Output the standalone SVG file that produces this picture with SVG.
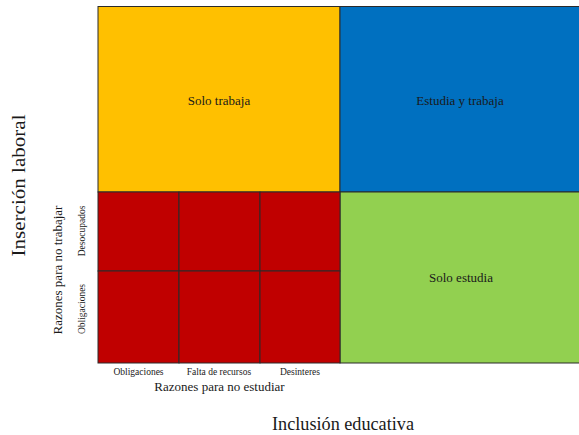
<svg xmlns="http://www.w3.org/2000/svg" width="579" height="435" viewBox="0 0 579 435" font-family="'Liberation Serif', 'Times New Roman', 'DejaVu Serif', serif">
<style>
text{fill:#1a1a1a;text-anchor:middle}
.cell{stroke:#2a2a2a;stroke-width:1}
.q{font-size:13px}
.ax{font-size:19px}
.sub{font-size:13px}
.sm{font-size:9.5px}
</style>
<rect width="579" height="435" fill="#fff"/>
<g id="solo-trabaja">
<rect class="cell" x="98" y="6.5" width="242" height="185.5" fill="#FFC000"/>
<text class="q" x="219" y="105">Solo trabaja</text>
</g>
<g id="estudia-y-trabaja">
<rect class="cell" x="340" y="6.5" width="240" height="185.5" fill="#0070C0"/>
<text class="q" x="460" y="105">Estudia y trabaja</text>
</g>
<g id="solo-estudia">
<rect class="cell" x="340" y="192" width="240" height="171" fill="#92D050"/>
<text class="q" x="461" y="282">Solo estudia</text>
</g>
<g id="ninguno">
<rect class="cell" x="98" y="192" width="81" height="79" fill="#C00000"/>
<rect class="cell" x="179" y="192" width="81" height="79" fill="#C00000"/>
<rect class="cell" x="260" y="192" width="80" height="79" fill="#C00000"/>
<rect class="cell" x="98" y="271" width="81" height="92" fill="#C00000"/>
<rect class="cell" x="179" y="271" width="81" height="92" fill="#C00000"/>
<rect class="cell" x="260" y="271" width="80" height="92" fill="#C00000"/>
</g>
<g id="labels">
<text class="ax" transform="translate(25,185.5) rotate(-90)" textLength="142" lengthAdjust="spacingAndGlyphs">Inserción laboral</text>
<text class="sub" transform="translate(62,270) rotate(-90)">Razones para no trabajar</text>
<text class="sm" transform="translate(85,231) rotate(-90)">Desocupados</text>
<text class="sm" transform="translate(85,309) rotate(-90)">Obligaciones</text>
<text class="sm" x="138.5" y="375">Obligaciones</text>
<text class="sm" x="219" y="375">Falta de recursos</text>
<text class="sm" x="300" y="375">Desinteres</text>
<text class="sub" x="219.5" y="391">Razones para no estudiar</text>
<text class="ax" x="343" y="430" textLength="142" lengthAdjust="spacingAndGlyphs">Inclusión educativa</text>
</g>
</svg>
